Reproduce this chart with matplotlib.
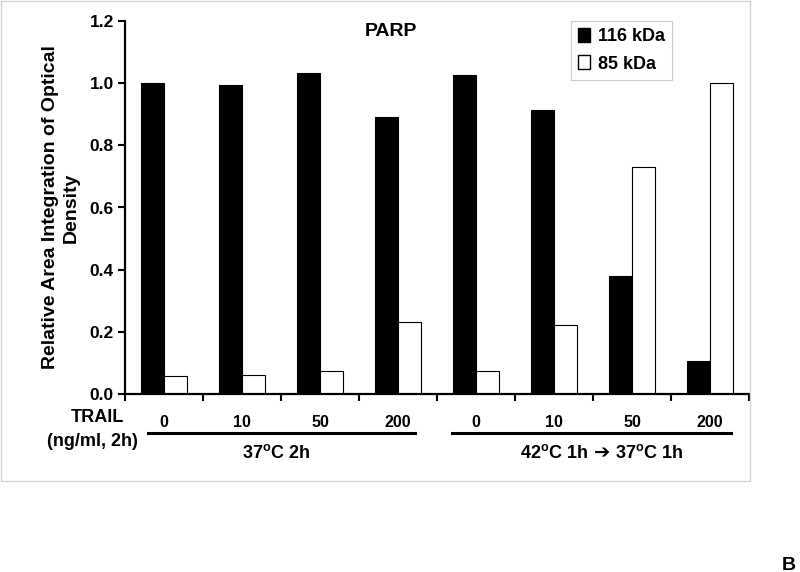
import numpy as np
import matplotlib
matplotlib.use("Agg")
import matplotlib.pyplot as plt
from matplotlib.patches import Patch, Rectangle
from matplotlib.lines import Line2D

plt.rcParams['font.family'] = ['Liberation Sans', 'DejaVu Sans']
plt.rcParams['font.weight'] = 'bold'
plt.rcParams['mathtext.fontset'] = 'custom'
plt.rcParams['mathtext.rm'] = 'Liberation Sans:bold'
plt.rcParams['mathtext.bf'] = 'Liberation Sans:bold'
plt.rcParams['mathtext.default'] = 'rm'

doses = ["0", "10", "50", "200", "0", "10", "50", "200"]
kda116 = [1.0, 0.993, 1.032, 0.892, 1.027, 0.913, 0.38, 0.105]
kda85 = [0.057, 0.062, 0.075, 0.231, 0.075, 0.223, 0.731, 1.0]
groups = ["37$^\\mathrm{o}$C 2h", "42$^\\mathrm{o}$C 1h", "37$^\\mathrm{o}$C 1h"]

fig = plt.figure(figsize=(8, 5.72), dpi=100)
ax = fig.add_axes([125/800, 1-394/572, 624/800, 373/572])

x = np.arange(len(doses))
w = 0.29
ax.bar(x - w/2, kda116, w, color='black', edgecolor='black', linewidth=0.8)
ax.bar(x + w/2, kda85, w, color='white', edgecolor='black', linewidth=0.8)

ax.set_xlim(-0.5, 7.5)
ax.set_ylim(0, 1.2)
yt = np.arange(0, 1.21, 0.2)
ax.set_yticks(yt)
ax.set_yticklabels([f"{v:.1f}" for v in yt], fontsize=12.5, fontweight='bold')
ax.set_xticks(np.arange(-0.5, 7.6, 1))
ax.set_xticklabels([])
ax.set_xticks(x, minor=True)
ax.set_xticklabels(doses, minor=True, fontsize=11.5, fontweight='bold')
ax.tick_params(axis='x', which='minor', length=0, pad=15)
ax.tick_params(axis='x', which='major', direction='out', length=5, width=1.5)
ax.tick_params(axis='y', direction='out', length=5, width=1.5, pad=3)

for s in ['top', 'right']:
    ax.spines[s].set_visible(False)
for s in ['left', 'bottom']:
    ax.spines[s].set_linewidth(1.6)

ax.set_ylabel("Relative Area Integration of Optical\nDensity", fontsize=14,
              fontweight='bold', linespacing=1.3)
ax.yaxis.set_label_coords(-(125-80)/624, 0.5)

fig.text(391/800, 1-32/572, "PARP", fontsize=14, fontweight='bold', ha='center', va='center')

handles = [Patch(facecolor='black', edgecolor='black'),
           Patch(facecolor='white', edgecolor='black')]
leg = ax.legend(handles, ["116 kDa", "85 kDa"], loc='upper left',
                bbox_to_anchor=(0.715, 1.0), prop={'size': 13, 'weight': 'bold'},
                handlelength=0.62, handleheight=0.8, handletextpad=0.45,
                fancybox=False, framealpha=1, borderpad=0.4, labelspacing=0.55,
                borderaxespad=0)
leg.get_frame().set_edgecolor('#cccccc')
leg.get_frame().set_linewidth(0.8)

# group lines and labels below axis
trans = ax.get_xaxis_transform()
ly = (394-433)/373
ax.add_line(Line2D([-0.205, 3.218], [ly, ly], color='black', lw=2.2, transform=trans, clip_on=False))
ax.add_line(Line2D([3.692, 7.269], [ly, ly], color='black', lw=2.2, transform=trans, clip_on=False))
gy = (394-453)/373
ax.text(1.44, gy, groups[0], transform=trans, ha='center', va='center', fontsize=13, fontweight='bold')
ax.text(5.622, gy, "\u2794", transform=trans, ha='center', va='center', fontsize=14,
        family='DejaVu Sans')
ax.text(5.436, gy, groups[1], transform=trans, ha='right', va='center', fontsize=13, fontweight='bold')
ax.text(5.782, gy, groups[2], transform=trans, ha='left', va='center', fontsize=13, fontweight='bold')

fig.text(97/800, 1-418/572, "TRAIL", fontsize=13, fontweight='bold', ha='center', va='center')
fig.text(92/800, 1-441/572, "(ng/ml, 2h)", fontsize=13, fontweight='bold', ha='center', va='center')

fig.text(796/800, 1-565/572, "B", fontsize=14, fontweight='bold', ha='right', va='center')

fig.patches.append(Rectangle((1/800, 1-481/572), 749/800, 480/572, transform=fig.transFigure,
                             fill=False, edgecolor='#d4d4d4', linewidth=1))

fig.savefig("out.png", dpi=100)
